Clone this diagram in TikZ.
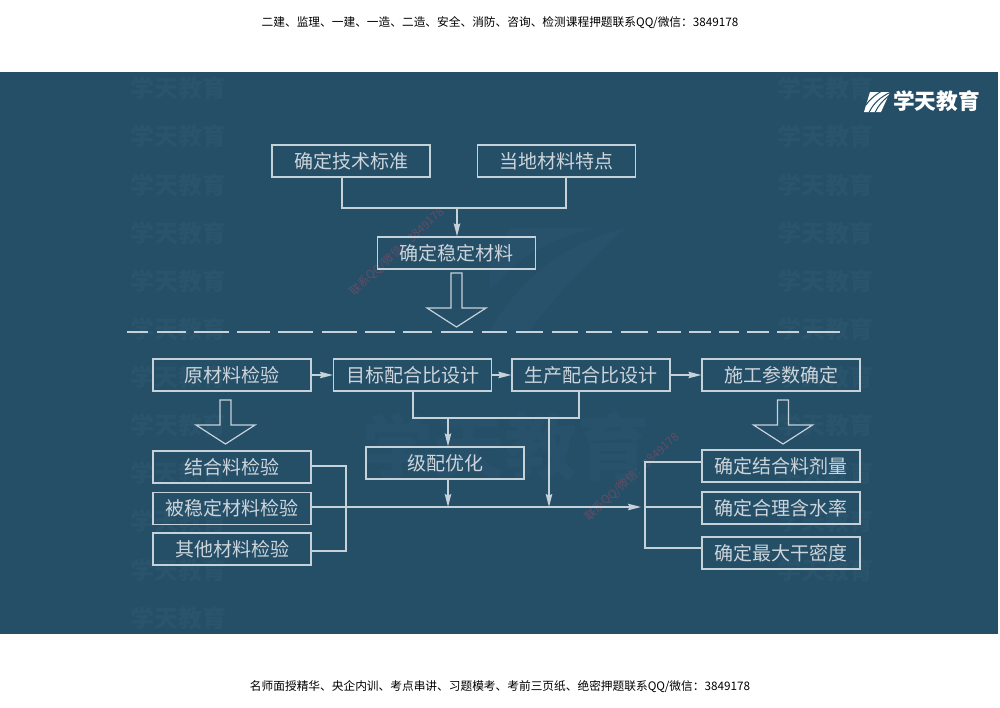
\documentclass[tikz,border=0pt]{standalone}
\usepackage{fontspec}
\setmainfont{Noto Sans CJK SC}
\usetikzlibrary{arrows.meta}
\definecolor{bgblue}{HTML}{254E67}
\definecolor{wmark}{HTML}{2A536C}
\definecolor{wmarkbig}{HTML}{28516B}
\definecolor{wline}{HTML}{C6D2DA}
\definecolor{wtext}{HTML}{CCD5DB}
\definecolor{redmark}{HTML}{5F4E66}
\tikzset{
  box/.style={draw=wline,line width=1.2pt,minimum width=158pt,minimum height=32pt,inner sep=0pt,text=wtext,font=\fontsize{19}{19}\selectfont,anchor=center},
  conn/.style={draw=wline,line width=1.3pt},
  arr/.style={conn,-{Stealth[length=13pt,width=6.5pt,inset=1.5pt]}},
  hollow/.style={draw=wline,line width=1.2pt,line join=miter},
  dashseg/.style={draw=wline,line width=1.6pt},
  wm/.style={text=wmark,font=\fontsize{24}{24}\bfseries\selectfont},
  head/.style={text=black,font=\fontsize{11.7}{12}\selectfont},
  redwm/.style={text=redmark,font=\fontsize{11.5}{11.5}\selectfont,rotate=42.5}
}
\newcommand{\hollowdown}[4]{% centre x, top y, shoulder y, tip y
  \draw[hollow] (#1-5.5,#2) -- (#1+5.5,#2) -- (#1+5.5,#3) -- (#1+29.5,#3) -- (#1,#4) -- (#1-29.5,#3) -- (#1-5.5,#3) -- cycle;}
\begin{document}
\begin{tikzpicture}[x=1pt,y=-1pt]
\useasboundingbox (0,0) rectangle (1000,707);
\fill[white] (0,0) rectangle (1000,707);
\fill[bgblue] (0,72) rectangle (998,634);
% faint watermarks
\foreach \y in {88,136,185,233,281,329,377,425,473,521,570,618}{
  \node[wm] (wl\y) at (178,\y) {学天教育};
}
\foreach \y in {88,136,185,233,281,329,377,425,473,521,570}{
  \node[wm] (wr\y) at (825,\y) {学天教育};
}
\fill[wmarkbig] (490,330) .. controls (520,280) and (560,245) .. (625,228) .. controls (590,260) and (560,290) .. (530,330) -- cycle;
\fill[wmarkbig] (490,262) -- (510,228) -- (600,228) .. controls (560,235) and (525,250) .. (490,290) -- cycle;
\node[text=wmarkbig,font=\fontsize{72}{72}\bfseries\selectfont] (wbig) at (505,447) {学天教育};
% red diagonal marks
\node[redwm] (red1) at (397,252) {联系QQ/微信：3849178};
\node[redwm] (red2) at (632,477) {联系QQ/微信：3849178};
% header and footer
\node[head] (top) at (500,23) {二建、监理、一建、一造、二造、安全、消防、咨询、检测课程押题联系QQ/微信：3849178};
\node[head] (bottom) at (500,687) {名师面授精华、央企内训、考点串讲、习题模考、考前三页纸、绝密押题联系QQ/微信：3849178};
% logo
\node[text=white,font=\fontsize{21.7}{21.7}\bfseries\selectfont] (logo) at (936.5,101) {学天教育};
\fill[white] (870,92) -- (890,92) -- (881,112) -- (864,112) -- cycle;
\draw[bgblue,line width=1pt] (869,112.5) .. controls (873,104) and (880,97) .. (891,92);
\draw[bgblue,line width=1pt] (875,112.5) .. controls (878,106) and (883,100) .. (890,95);
\draw[bgblue,line width=1pt] (866,105) .. controls (869,100) and (875,95) .. (881,91.5);
% boxes
\node[box] (std) at (351,161) {确定技术标准};
\node[box] (local) at (556.5,161) {当地材料特点};
\node[box] (mat) at (456.5,253) {确定稳定材料};
\node[box] (raw) at (232,375) {原材料检验};
\node[box] (target) at (412.5,375) {目标配合比设计};
\node[box] (prod) at (591,375) {生产配合比设计};
\node[box] (param) at (781,375) {施工参数确定};
\node[box] (binder) at (232,467) {结合料检验};
\node[box] (stab) at (232,508.5) {被稳定材料检验};
\node[box] (other) at (232,549) {其他材料检验};
\node[box] (grad) at (445,463) {级配优化};
\node[box] (dose) at (781,466) {确定结合料剂量};
\node[box] (water) at (781,508) {确定合理含水率};
\node[box] (dens) at (781,553) {确定最大干密度};
% junction coordinates
\coordinate (tl) at (342,208);
\coordinate (tm) at (457,208);
\coordinate (tr) at (566,208);
\coordinate (ml) at (413,418);
\coordinate (mm) at (448,418);
\coordinate (mn) at (549,418);
\coordinate (mr) at (579,418);
\coordinate (lb) at (346,507);
\coordinate (gb) at (448,507);
\coordinate (nb) at (549,507);
\coordinate (rend) at (641,507);
\coordinate (rb) at (645,507);
\coordinate (rt) at (645,462);
\coordinate (rd) at (645,548);
% connectors
\draw[conn] (tl |- std.south) -- (tl) -- (tr) -- (tr |- local.south);
\draw[arr] (tm) -- (tm |- mat.north);
\draw[arr] (raw.east) -- (target.west);
\draw[arr] (target.east) -- (prod.west);
\draw[arr] (prod.east) -- (param.west);
\draw[conn] (ml |- target.south) -- (ml) -- (mr) -- (mr |- prod.south);
\draw[arr] (mm) -- (mm |- grad.north);
\draw[arr] (mn) -- (nb);
\draw[arr] (gb |- grad.south) -- (gb);
\draw[conn] (binder.east |- 0,466) -- (346,466) -- (346,551) -- (other.east |- 0,551);
\draw[arr] (stab.east |- lb) -- (rend);
\draw[conn] (dose.west |- rt) -- (rt) -- (rd) -- (water.west |- rd);
\draw[conn] (rb) -- (water.west |- rb);
% hollow arrows
\hollowdown{456.5}{273}{308}{327}
\hollowdown{225.5}{400}{425}{444}
\hollowdown{783}{400}{425}{444}
% dashed divider
\foreach \a/\b in {127/148,157/186,194/229,237/270,278/313,322/357,365/395,403/432,441/473,482/507,516/543,552/578,586/612,621/648,657/681,689/711,719/739,747/769,777/799,807/840}{
  \draw[dashseg] (\a,332) -- (\b,332);
}
\end{tikzpicture}
\end{document}
